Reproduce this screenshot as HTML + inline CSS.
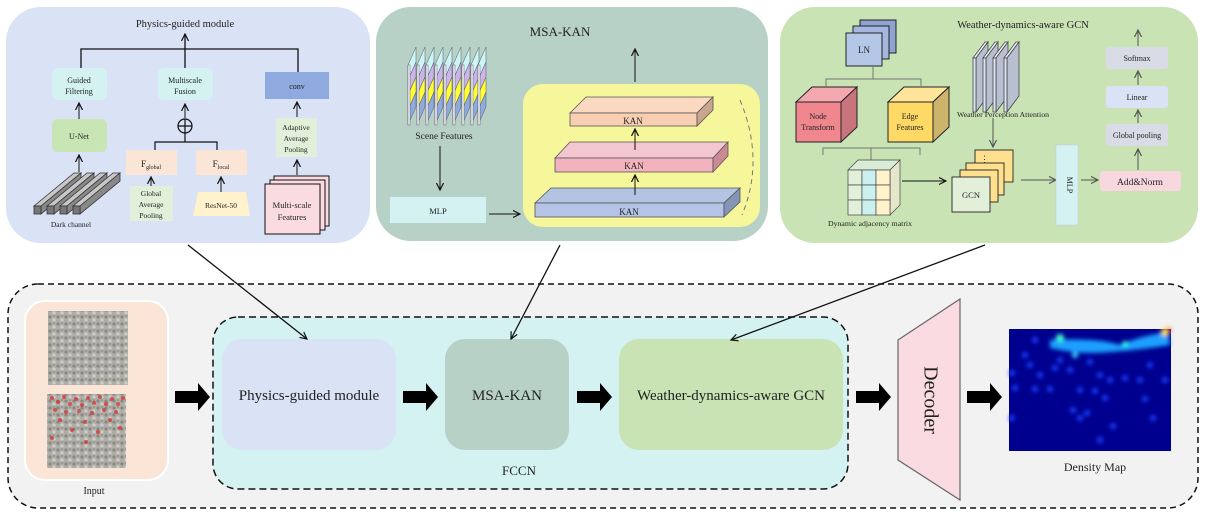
<!DOCTYPE html>
<html><head><meta charset="utf-8"><style>html,body{margin:0;padding:0;background:#fff}svg{display:block}text{font-family:"Liberation Serif",serif;fill:#222}</style></head><body>
<svg width="1208" height="516" viewBox="0 0 1208 516" xmlns="http://www.w3.org/2000/svg">
<defs>
<marker id="a" markerWidth="8" markerHeight="8" refX="7" refY="4" orient="auto" markerUnits="userSpaceOnUse"><path d="M0,0.5 L7,4 L0,7.5" fill="none" stroke="#111" stroke-width="1.2"/></marker>
<marker id="ag" markerWidth="8" markerHeight="8" refX="7" refY="4" orient="auto" markerUnits="userSpaceOnUse"><path d="M0,0.5 L7,4 L0,7.5" fill="none" stroke="#555" stroke-width="1.2"/></marker>
<filter id="bl"><feGaussianBlur stdDeviation="2"/></filter>
<pattern id="crowd" width="8" height="7" patternUnits="userSpaceOnUse"><rect width="8" height="7" fill="#a7a7a2"/><circle cx="2" cy="2" r="1.6" fill="#7d7d79"/><circle cx="6" cy="5" r="1.6" fill="#c9c9c4"/><rect x="5" y="0" width="2" height="2" fill="#8f8f8a"/></pattern>
</defs>

<!-- Panel 1 -->
<rect x="6" y="7" width="364" height="236" rx="35" fill="#dae2f5"/>
<text x="185" y="27" font-size="10.5" text-anchor="middle">Physics-guided module</text>
<path d="M81,68 V49 H298 V72" fill="none" stroke="#111" stroke-width="1.3"/>
<line x1="185" y1="68" x2="185" y2="34" stroke="#111" stroke-width="1.3" marker-end="url(#a)"/>
<rect x="52" y="68" width="55" height="32" rx="6" fill="#d5f2f3"/>
<text x="79" y="83" font-size="8" text-anchor="middle">Guided</text><text x="79" y="94" font-size="8" text-anchor="middle">Filtering</text>
<rect x="158" y="68" width="55" height="32" rx="6" fill="#d5f2f3"/>
<text x="185" y="83" font-size="8" text-anchor="middle">Multiscale</text><text x="185" y="94" font-size="8" text-anchor="middle">Fusion</text>
<rect x="265" y="72" width="64" height="27" fill="#8eaade"/>
<text x="297" y="89" font-size="8" text-anchor="middle">conv</text>
<line x1="79" y1="119" x2="79" y2="103" stroke="#111" marker-end="url(#a)"/>
<rect x="52" y="119" width="55" height="33" rx="6" fill="#c7e5b5"/>
<text x="79" y="139" font-size="8" text-anchor="middle">U-Net</text>
<line x1="79" y1="172" x2="79" y2="155" stroke="#111" marker-end="url(#a)"/>
<g stroke="#333" stroke-width="0.8">
<g><polygon points="34,206 74,173 81,173 41,206" fill="#c8c8c8"/><polygon points="41,206 81,173 81,181 41,214" fill="#888"/><rect x="34" y="206" width="7" height="8" fill="#777"/></g>
<g><polygon points="47,206 87,173 94,173 54,206" fill="#c8c8c8"/><polygon points="54,206 94,173 94,181 54,214" fill="#888"/><rect x="47" y="206" width="7" height="8" fill="#777"/></g>
<g><polygon points="60,206 100,173 107,173 67,206" fill="#c8c8c8"/><polygon points="67,206 107,173 107,181 67,214" fill="#888"/><rect x="60" y="206" width="7" height="8" fill="#777"/></g>
<g><polygon points="73,206 113,173 120,173 80,206" fill="#c8c8c8"/><polygon points="80,206 120,173 120,181 80,214" fill="#888"/><rect x="73" y="206" width="7" height="8" fill="#777"/></g>
</g>
<text x="71" y="227" font-size="7.5" text-anchor="middle">Dark channel</text>
<line x1="185" y1="118" x2="185" y2="104" stroke="#111" marker-end="url(#a)"/>
<circle cx="185" cy="126" r="7" fill="none" stroke="#111" stroke-width="1.2"/>
<path d="M178,126 H192 M185,119 V133" stroke="#111" stroke-width="1.2"/>
<path d="M155,150 V142 H217 V150 M185,142 V133" fill="none" stroke="#111" stroke-width="1.2"/>
<rect x="126" y="150" width="51" height="25" fill="#fbe5d6"/>
<text x="151" y="167" font-size="9" text-anchor="middle">F<tspan font-size="6" dy="2">global</tspan></text>
<rect x="196" y="150" width="51" height="25" fill="#fbe5d6"/>
<text x="221" y="167" font-size="9" text-anchor="middle">F<tspan font-size="6" dy="2">local</tspan></text>
<line x1="151" y1="186" x2="151" y2="177" stroke="#111" marker-end="url(#a)"/>
<line x1="221" y1="192" x2="221" y2="177" stroke="#111" marker-end="url(#a)"/>
<rect x="130" y="186" width="43" height="35" fill="#e2f0d9"/>
<text x="151" y="196" font-size="7.5" text-anchor="middle">Global</text><text x="151" y="207" font-size="7.5" text-anchor="middle">Average</text><text x="151" y="218" font-size="7.5" text-anchor="middle">Pooling</text>
<polygon points="198,192 246,192 250,216 193,216" fill="#fff2cc"/>
<text x="221" y="208" font-size="7.5" text-anchor="middle">ResNet-50</text>
<line x1="297" y1="117" x2="297" y2="102" stroke="#111" marker-end="url(#a)"/>
<rect x="276" y="118" width="41" height="39" fill="#e2f0d9"/>
<text x="296" y="130" font-size="7.5" text-anchor="middle">Adaptive</text><text x="296" y="141" font-size="7.5" text-anchor="middle">Average</text><text x="296" y="152" font-size="7.5" text-anchor="middle">Pooling</text>
<line x1="297" y1="175" x2="297" y2="160" stroke="#111" marker-end="url(#a)"/>
<g stroke="#111" stroke-width="1" fill="#fadbe2">
<rect x="274" y="176" width="55" height="50"/><rect x="270" y="180" width="55" height="50"/><rect x="265" y="184" width="55" height="50"/></g>
<text x="292" y="208" font-size="8.5" text-anchor="middle">Multi-scale</text><text x="292" y="220" font-size="8.5" text-anchor="middle">Features</text>

<!-- Panel 2 -->
<rect x="376" y="7" width="392" height="234" rx="35" fill="#b7d1c7"/>
<text x="560" y="36" font-size="13" text-anchor="middle">MSA-KAN</text>
<g stroke="#556" stroke-width="0.5">
<g id="pl">
<polygon points="408,65 416,47 416,62 408,80" fill="#ccf5f5"/>
<polygon points="408,80 416,62 416,77 408,95" fill="#c9b5ea"/>
<polygon points="408,95 416,77 416,92 408,110" fill="#ffff33"/>
<polygon points="408,110 416,92 416,107 408,125" fill="#8faadc"/>
<rect x="408" y="65" width="2" height="60" fill="#fff"/>
</g>
<use href="#pl" x="9"/><use href="#pl" x="18"/><use href="#pl" x="27"/><use href="#pl" x="36"/><use href="#pl" x="45"/><use href="#pl" x="54"/><use href="#pl" x="63"/><use href="#pl" x="70"/>
</g>
<text x="444" y="139" font-size="9.5" text-anchor="middle">Scene Features</text>
<line x1="440" y1="146" x2="440" y2="190" stroke="#111" marker-end="url(#a)"/>
<rect x="390" y="197" width="96" height="26" fill="#d5f2f3"/>
<text x="438" y="214" font-size="8.5" text-anchor="middle">MLP</text>
<line x1="489" y1="214" x2="520" y2="214" stroke="#111" marker-end="url(#a)"/>
<rect x="523" y="84" width="237" height="143" rx="20" fill="#f5f79a"/>
<path d="M740,100 Q765,160 742,215" fill="none" stroke="#777" stroke-dasharray="5,4"/>
<g stroke="#555" stroke-width="0.8">
<polygon points="535,203 551,188 740,188 724,203" fill="#b4c3e2"/><rect x="535" y="203" width="189" height="14" fill="#b4c3e6"/><polygon points="724,203 740,188 740,202 724,217" fill="#8495b5"/>
<polygon points="555,158 570,142 728,142 713,158" fill="#f4c6d0"/><rect x="555" y="158" width="158" height="14" fill="#f2b3bf"/><polygon points="713,158 728,142 728,156 713,172" fill="#c98a95"/>
<polygon points="570,113 586,97 713,97 697,113" fill="#fbd8c0"/><rect x="570" y="113" width="127" height="13" fill="#f8cfb3"/><polygon points="697,113 713,97 713,110 697,126" fill="#c9a58d"/>
</g>
<text x="629" y="215" font-size="9" text-anchor="middle">KAN</text>
<text x="634" y="169" font-size="9" text-anchor="middle">KAN</text>
<text x="633" y="124" font-size="9" text-anchor="middle">KAN</text>
<line x1="635" y1="195" x2="635" y2="175" stroke="#111" marker-end="url(#a)"/>
<line x1="635" y1="150" x2="635" y2="129" stroke="#111" marker-end="url(#a)"/>
<line x1="635" y1="82" x2="635" y2="49" stroke="#111" marker-end="url(#a)"/>

<!-- Panel 3 -->
<rect x="780" y="7" width="418" height="236" rx="35" fill="#c9e3b5"/>
<text x="1023" y="28" font-size="10.5" text-anchor="middle">Weather-dynamics-aware GCN</text>
<g stroke="#111" stroke-width="0.9">
<rect x="860" y="20" width="36" height="33" fill="#8fa3d0"/><rect x="853" y="26" width="36" height="33" fill="#a5b7df"/><rect x="846" y="33" width="36" height="33" fill="#b4c7e7"/></g>
<text x="864" y="53" font-size="9" text-anchor="middle">LN</text>
<path d="M826,86 V79 H921 V86 M873,79 V67" fill="none" stroke="#777" stroke-width="1"/>
<g stroke="#222" stroke-width="1">
<polygon points="796,102 812,87 857,87 841,102" fill="#f4a8b0"/><rect x="796" y="102" width="45" height="40" fill="#f0878f"/><polygon points="841,102 857,87 857,127 841,142" fill="#c8747c"/>
<polygon points="888,102 904,87 949,87 933,102" fill="#ffe49a"/><rect x="888" y="102" width="45" height="40" fill="#ffd966"/><polygon points="933,102 949,87 949,127 933,142" fill="#ccb46a"/>
</g>
<text x="818" y="119" font-size="8" text-anchor="middle">Node</text><text x="818" y="130" font-size="8" text-anchor="middle">Transform</text>
<text x="910" y="119" font-size="8" text-anchor="middle">Edge</text><text x="910" y="130" font-size="8" text-anchor="middle">Features</text>
<g stroke="#444" stroke-width="0.8">
<g id="wp"><polygon points="973,58 985,42 988,42 976,58" fill="#eef2fa"/><polygon points="976,58 988,42 988,96 976,112" fill="#b8c0d0"/><rect x="973" y="58" width="3" height="54" fill="#dae3f3"/></g>
<use href="#wp" x="10"/><use href="#wp" x="20"/><use href="#wp" x="31"/>
</g>
<text x="1003" y="117" font-size="7.8" text-anchor="middle">Weather Perception Attention</text>
<path d="M823,155 V148 H920 V155 M871,148 V160" fill="none" stroke="#777" stroke-width="1"/>
<g stroke="#444" stroke-width="0.7">
<polygon points="848,170 858,160 900,160 890,170" fill="#d9ecd6"/>
<polygon points="890,170 900,160 900,205 890,215" fill="#e6e6c8"/>
<rect x="848" y="170" width="14" height="15" fill="#e2f0d9"/><rect x="862" y="170" width="14" height="15" fill="#ccf0f0"/><rect x="876" y="170" width="14" height="15" fill="#fff2cc"/>
<rect x="848" y="185" width="14" height="15" fill="#e2f0d9"/><rect x="862" y="185" width="14" height="15" fill="#ccf0f0"/><rect x="876" y="185" width="14" height="15" fill="#fff2cc"/>
<rect x="848" y="200" width="14" height="15" fill="#e2f0d9"/><rect x="862" y="200" width="14" height="15" fill="#ccf0f0"/><rect x="876" y="200" width="14" height="15" fill="#fff2cc"/>
</g>
<text x="870" y="226" font-size="7.8" text-anchor="middle">Dynamic adjacency matrix</text>
<line x1="902" y1="181" x2="946" y2="181" stroke="#111" marker-end="url(#a)"/>
<line x1="993" y1="118" x2="993" y2="147" stroke="#555" marker-end="url(#ag)"/>
<g stroke="#222" stroke-width="0.9">
<rect x="975" y="150" width="38" height="32" fill="#ffe08f"/><rect x="966" y="163" width="38" height="32" fill="#ffe08f"/><rect x="960" y="170" width="38" height="32" fill="#ffe08f"/>
<rect x="952" y="177" width="38" height="35" fill="#e2f0d9"/></g>
<text x="980" y="162" font-size="9" fill="#333">⋮</text>
<text x="971" y="198" font-size="8.5" text-anchor="middle">GCN</text>
<line x1="1021" y1="180" x2="1056" y2="180" stroke="#555" marker-end="url(#ag)"/>
<rect x="1056" y="145" width="22" height="80" fill="#d5f2f3" stroke="#bcd" stroke-width="0.5"/>
<text x="1067" y="185" font-size="8" text-anchor="middle" transform="rotate(90 1067 185)">MLP</text>
<line x1="1081" y1="180" x2="1098" y2="180" stroke="#555" marker-end="url(#ag)"/>
<rect x="1100" y="171" width="81" height="20" rx="3" fill="#f9d7df"/>
<text x="1140" y="185" font-size="9.5" text-anchor="middle">Add&amp;Norm</text>
<rect x="1106" y="124" width="62" height="22" rx="3" fill="#d9dce6"/>
<text x="1137" y="138" font-size="8" text-anchor="middle">Global pooling</text>
<rect x="1106" y="86" width="62" height="22" rx="3" fill="#dae2f5"/>
<text x="1137" y="100" font-size="8" text-anchor="middle">Linear</text>
<rect x="1106" y="47" width="62" height="22" rx="3" fill="#d9dce6"/>
<text x="1137" y="61" font-size="8" text-anchor="middle">Softmax</text>
<g stroke="#555" stroke-width="1"><line x1="1138" y1="170" x2="1138" y2="149" marker-end="url(#ag)"/><line x1="1138" y1="123" x2="1138" y2="110" marker-end="url(#ag)"/><line x1="1138" y1="85" x2="1138" y2="71" marker-end="url(#ag)"/><line x1="1138" y1="46" x2="1138" y2="30" marker-end="url(#ag)"/></g>

<!-- Bottom -->
<rect x="8" y="284" width="1190" height="224" rx="30" fill="#f2f2f2" stroke="#111" stroke-width="1.5" stroke-dasharray="6,4"/>
<rect x="25" y="301" width="143" height="179" rx="20" fill="#fbe5d6" stroke="#fff" stroke-width="2"/>
<rect x="48" y="311" width="80" height="74" fill="url(#crowd)" opacity="0.9"/>
<rect x="47" y="394" width="79" height="74" fill="url(#crowd)" opacity="0.9"/>
<g fill="#d83030" opacity="0.75">
<circle cx="52" cy="398" r="2"/><circle cx="58" cy="402" r="2"/><circle cx="64" cy="397" r="2"/><circle cx="70" cy="404" r="2"/><circle cx="76" cy="399" r="2"/><circle cx="82" cy="405" r="2"/><circle cx="88" cy="398" r="2"/><circle cx="94" cy="403" r="2"/><circle cx="100" cy="397" r="2"/><circle cx="106" cy="404" r="2"/><circle cx="112" cy="399" r="2"/><circle cx="118" cy="404" r="2"/><circle cx="123" cy="398" r="2"/>
<circle cx="55" cy="410" r="2"/><circle cx="66" cy="412" r="2"/><circle cx="79" cy="411" r="2"/><circle cx="92" cy="413" r="2"/><circle cx="104" cy="410" r="2"/><circle cx="116" cy="412" r="2"/><circle cx="60" cy="420" r="2"/><circle cx="85" cy="422" r="2"/><circle cx="110" cy="420" r="2"/><circle cx="72" cy="430" r="2"/><circle cx="98" cy="432" r="2"/><circle cx="120" cy="428" r="2"/><circle cx="52" cy="438" r="2"/><circle cx="86" cy="442" r="2"/>
</g>
<text x="94" y="494" font-size="10" text-anchor="middle" fill="#000">Input</text>
<rect x="213" y="317" width="635" height="172" rx="25" fill="#d5f2f2" stroke="#111" stroke-width="1.5" stroke-dasharray="7,4"/>
<rect x="222" y="339" width="174" height="111" rx="20" fill="#dae2f5"/>
<text x="309" y="400" font-size="15" text-anchor="middle" fill="#000">Physics-guided module</text>
<rect x="445" y="339" width="124" height="111" rx="20" fill="#b7d1c7"/>
<text x="507" y="400" font-size="15" text-anchor="middle" fill="#000">MSA-KAN</text>
<rect x="619" y="339" width="224" height="111" rx="20" fill="#c9e3b5"/>
<text x="731" y="400" font-size="15" text-anchor="middle" fill="#000">Weather-dynamics-aware GCN</text>
<text x="519" y="475" font-size="13" text-anchor="middle" fill="#000">FCCN</text>
<g fill="#000">
<polygon points="175,391 198,391 198,383 210,397 198,411 198,403 175,403"/>
<polygon points="403,391 426,391 426,383 438,397 426,411 426,403 403,403"/>
<polygon points="577,391 600,391 600,383 612,397 600,411 600,403 577,403"/>
<polygon points="856,391 879,391 879,383 891,397 879,411 879,403 856,403"/>
<polygon points="967,391 990,391 990,383 1002,397 990,411 990,403 967,403"/>
</g>
<polygon points="898,340 960,299 960,500 898,460" fill="#fadbe2" stroke="#666" stroke-width="1.2"/>
<text x="929" y="400" font-size="20" text-anchor="middle" fill="#000" transform="rotate(90 929 400)" dominant-baseline="middle">Decoder</text>
<rect x="1009" y="329" width="162" height="122" fill="#00008f"/>
<g filter="url(#bl)">
<path d="M1050,340 Q1100,338 1120,345 Q1140,336 1168,332 L1170,345 Q1140,350 1110,352 Q1080,355 1050,348 Z" fill="#1aa0ff"/>
<circle cx="1060" cy="338" r="4" fill="#40ffd0"/><circle cx="1165" cy="332" r="4" fill="#ffe040"/><circle cx="1169" cy="330" r="2" fill="#ff2000"/>
<circle cx="1075" cy="355" r="3" fill="#40e0ff"/><circle cx="1125" cy="344" r="3" fill="#30ffe0"/>
<g fill="#1a40ff">
<circle cx="1035" cy="340" r="3"/><circle cx="1025" cy="355" r="3"/><circle cx="1030" cy="365" r="3"/><circle cx="1012" cy="373" r="3"/><circle cx="1040" cy="375" r="3"/><circle cx="1055" cy="368" r="3"/><circle cx="1070" cy="370" r="3"/><circle cx="1090" cy="362" r="3"/><circle cx="1100" cy="375" r="3"/><circle cx="1110" cy="380" r="3"/><circle cx="1125" cy="378" r="3"/><circle cx="1150" cy="365" r="3"/><circle cx="1165" cy="380" r="3"/><circle cx="1015" cy="388" r="3"/><circle cx="1035" cy="389" r="3"/><circle cx="1050" cy="389" r="3"/><circle cx="1080" cy="390" r="3"/><circle cx="1095" cy="391" r="3"/><circle cx="1105" cy="398" r="3"/><circle cx="1145" cy="399" r="3"/><circle cx="1073" cy="410" r="3"/><circle cx="1080" cy="418" r="3"/><circle cx="1087" cy="413" r="3"/><circle cx="1113" cy="426" r="3"/><circle cx="1012" cy="418" r="3"/><circle cx="1153" cy="418" r="3"/><circle cx="1100" cy="440" r="3"/><circle cx="1140" cy="380" r="3"/><circle cx="1060" cy="360" r="3"/>
</g></g>
<text x="1095" y="471" font-size="12" text-anchor="middle" fill="#000">Density Map</text>

<!-- connectors -->
<g stroke="#111" stroke-width="1.3">
<line x1="188" y1="245" x2="307" y2="339" marker-end="url(#a)"/>
<line x1="560" y1="245" x2="511" y2="339" marker-end="url(#a)"/>
<line x1="985" y1="245" x2="731" y2="340" marker-end="url(#a)"/>
</g>
</svg>
</body></html>
